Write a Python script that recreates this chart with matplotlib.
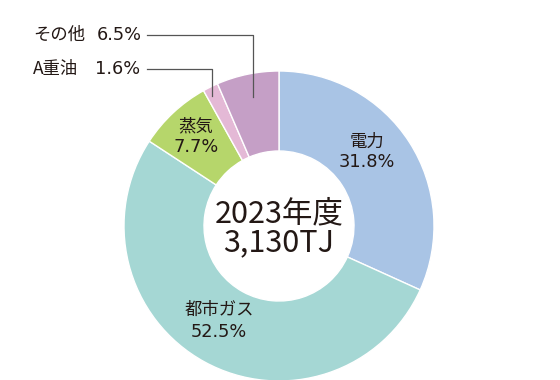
import matplotlib
matplotlib.use("Agg")
import matplotlib.pyplot as plt

plt.rcParams['font.family'] = ['Noto Sans CJK JP', 'DejaVu Sans']

# data
labels = ["電力", "都市ガス", "蒸気", "A重油", "その他"]
shares = [31.8, 52.5, 7.7, 1.6, 6.5]
colors = ["#a9c4e5", "#a5d7d4", "#b6d66b", "#e4b9d6", "#c59fc6"]
year_label = "2023年度"
total_label = "3,130TJ"

H = 380
textColor = "#231815"
lineColor = "#555555"
fs = 12.5
numFont = ['DejaVu Sans']
numFs = 12.8


def Y(y):
    # pixel row from top -> data y
    return H - y


fig = plt.figure(figsize=(5.6, 3.8), dpi=100)
ax = fig.add_axes([0, 0, 1, 1])
ax.set_xlim(0, 560)
ax.set_ylim(0, H)
ax.set_aspect("equal")
ax.axis("off")

ax.pie(shares, colors=colors, startangle=90, counterclock=False,
       center=(279, Y(226)), radius=155,
       wedgeprops=dict(width=80, edgecolor="white", linewidth=1))
ax.set_xlim(0, 560)
ax.set_ylim(0, H)

# inside labels
inside = [(0, 367, 142, 162), (1, 219, 310, 332), (2, 196, 126, 147)]
for i, x, y1, y2 in inside:
    ax.text(x, Y(y1), labels[i], ha="center", va="center", fontsize=fs, color=textColor)
    ax.text(x, Y(y2), "%.1f%%" % shares[i], ha="center", va="center",
            fontsize=numFs, family=numFont, color=textColor)

# outside labels with leader lines
ax.text(33, Y(69), labels[3], ha="left", va="center", fontsize=fs, color=textColor)
ax.text(95, Y(69), "%.1f%%" % shares[3], ha="left", va="center",
        fontsize=numFs, family=numFont, color=textColor)
ax.plot([147, 212, 212], [Y(69), Y(69), Y(96)], color=lineColor, linewidth=0.9)
ax.text(33, Y(35), labels[4], ha="left", va="center", fontsize=fs, color=textColor)
ax.text(97, Y(35), "%.1f%%" % shares[4], ha="left", va="center",
        fontsize=numFs, family=numFont, color=textColor)
ax.plot([147, 253, 253], [Y(35), Y(35), Y(97)], color=lineColor, linewidth=0.9)

# center text
ax.text(279, Y(214), year_label, ha="center", va="center", fontsize=22, color=textColor)
ax.text(279, Y(243), total_label, ha="center", va="center", fontsize=22, color=textColor)

fig.savefig("out.png", dpi=100)
